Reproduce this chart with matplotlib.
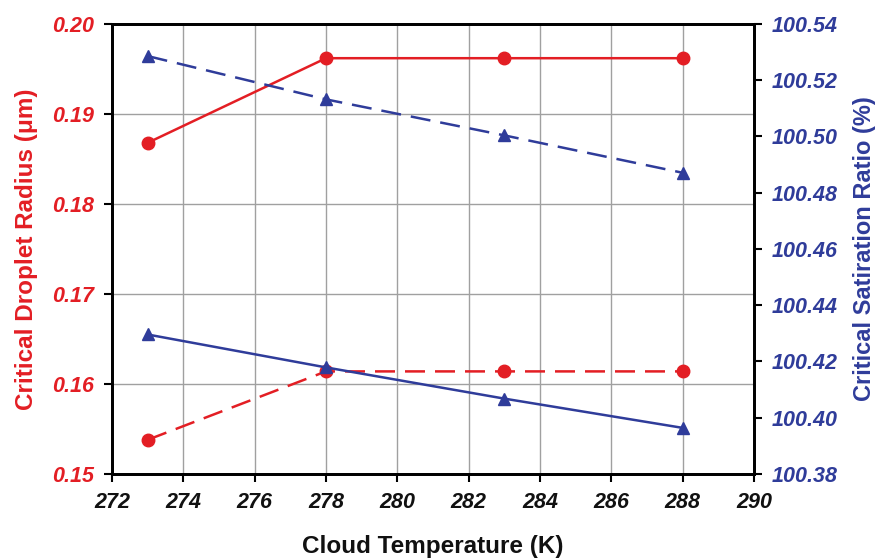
import matplotlib
matplotlib.use("Agg")
import matplotlib.pyplot as plt
from matplotlib.ticker import FormatStrFormatter

plt.rcParams['font.family'] = ['Liberation Sans', 'DejaVu Sans']

# data
temps = [273, 278, 283, 288]
radius_solid = [0.1868, 0.1962, 0.1962, 0.1962]
radius_dashed = [0.1538, 0.1614, 0.1614, 0.1614]
ratio_dashed = [100.5286, 100.5132, 100.5004, 100.4871]
ratio_solid = [100.4296, 100.4179, 100.4068, 100.3964]

RED = '#e31e24'
BLUE = '#2f3c9a'

fig = plt.figure(figsize=(8.78, 5.59), dpi=100)
ax = fig.add_axes([112 / 878, 1 - 474 / 559, (754 - 112) / 878, (474 - 24) / 559])
ax2 = ax.twinx()

ax.plot(temps, radius_solid, '-', color=RED, lw=1.8, marker='o', ms=9, zorder=3)
ax.plot(temps, radius_dashed, '--', color=RED, lw=1.8, marker='o', ms=9,
        dashes=(8, 4), zorder=3)
ax2.plot(temps, ratio_dashed, '--', color=BLUE, lw=1.8, marker='^', ms=9,
         dashes=(8, 4), zorder=3)
ax2.plot(temps, ratio_solid, '-', color=BLUE, lw=1.8, marker='^', ms=9, zorder=3)

ax.set_xlim(272, 290)
ax.set_ylim(0.15, 0.20)
ax2.set_ylim(100.38, 100.54)
ax.set_xticks(range(272, 291, 2))
ax.set_yticks([0.15, 0.16, 0.17, 0.18, 0.19, 0.20])
ax2.set_yticks([100.38 + 0.02 * i for i in range(9)])
ax.yaxis.set_major_formatter(FormatStrFormatter('%.2f'))
ax2.yaxis.set_major_formatter(FormatStrFormatter('%.2f'))

ax.grid(True, color='#a0a0a0', lw=1.0)
ax.set_axisbelow(True)

for a in (ax, ax2):
    for s in a.spines.values():
        s.set_linewidth(2)
        s.set_color('black')
    a.tick_params(direction='out', length=6, width=1.5, pad=7)

tick_font = dict(fontsize=15.5, fontweight='bold', fontstyle='italic')
for lab in ax.get_xticklabels():
    lab.set(**tick_font, color='#111111')
for lab in ax.get_yticklabels():
    lab.set(**tick_font, color=RED)
for lab in ax2.get_yticklabels():
    lab.set(**tick_font, color=BLUE)

ax.set_xlabel('Cloud Temperature (K)', fontsize=17.5, fontweight='bold',
              color='#111111', labelpad=16)
ax.set_ylabel('Critical Droplet Radius (\u03bcm)', fontsize=17.5, fontweight='bold',
              color=RED, labelpad=10)
ax2.set_ylabel('Critical Satiration Ratio (%)', fontsize=17, fontweight='bold',
               color=BLUE, labelpad=11)

fig.savefig('out.png', dpi=100)
